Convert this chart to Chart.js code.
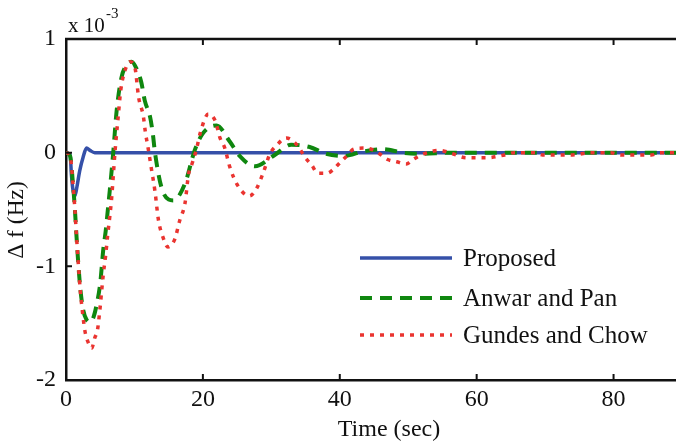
<!DOCTYPE html>
<html>
<head>
<meta charset="utf-8">
<script src="https://cdn.jsdelivr.net/npm/chart.js@4.4.0/dist/chart.umd.min.js"></script>
<style>
    html, body { margin: 0; padding: 0; background: #fff; overflow: hidden; }
    #wrap { width: 686px; height: 446px; }
</style>
</head>
<body>
<div id="wrap"><canvas id="chart" width="686" height="446"></canvas></div>
<script>
// values in units of 1e-3 Hz
const proposedTime = [0, 0.6, 0.8, 1.0, 1.3, 1.6, 2.0, 2.5, 3.0, 3.5, 4.2, 90];
const proposedVals = [0, -0.02, -0.2, -0.32, -0.38, -0.3, -0.16, -0.04, 0.04, 0.02, 0, 0];

const anwarTime = [0, 0.6, 1.0, 1.3, 1.55, 1.8, 2.1, 2.5, 3.0, 3.5, 4.0, 4.5, 5.0, 5.45, 5.8, 6.1, 6.4, 6.9,
    7.4, 8.1, 8.85, 9.6, 10.3, 11.0, 11.5, 12.3, 12.7, 13.0, 14.2, 15.7, 17.4, 18.8, 20.0, 22.0, 23.9, 25.4,
    27.6, 30.5, 32.9, 35.6, 38.0, 40.5, 43.4, 46.3, 49.2, 51.9, 56, 90];
const anwarVals = [0, -0.03, -0.26, -0.5, -0.75, -0.98, -1.2, -1.38, -1.47, -1.49, -1.45, -1.33, -1.15, -0.85, -0.69, -0.51, -0.33, 0,
    0.37, 0.66, 0.77, 0.80, 0.74, 0.62, 0.46, 0.31, 0.16, 0, -0.35, -0.42, -0.27, 0.02, 0.17, 0.24, 0.1, -0.03,
    -0.12, -0.02, 0.07, 0.05, -0.01, -0.03, 0.01, 0.03, 0, -0.01, 0, 0];

const gundesTime = [0, 0.6, 1.0, 1.3, 1.55, 1.8, 2.1, 2.5, 2.8, 3.25, 3.75, 4.2, 4.6, 4.9, 5.45, 5.8, 6.1, 6.4, 6.67, 6.9, 7.15,
    7.6, 8.0, 8.6, 9.35, 10.1, 10.6, 11.3, 11.6, 12.0, 12.5, 13.0, 13.5, 14.2, 14.9, 15.9, 16.6, 17.4, 17.9, 18.4, 19.1, 19.6,
    20.8, 21.8, 22.5, 23.2, 23.9, 25.1, 26.8, 27.8, 28.8, 29.8, 30.7, 32.2, 33.4, 34.2, 34.9, 35.9, 36.8, 38.2, 39.0,
    40.0, 41.0, 42.0, 43.4, 44.6, 45.8, 47.0, 48.3, 49.7, 50.7, 51.9, 53.4, 54.6, 56.5, 58.5, 61.4, 64.1, 65.5, 68.5,
    69.6, 74.0, 76.7, 79.6, 81.1, 85.5, 86.7, 90];
const gundesVals = [0, -0.03, -0.26, -0.5, -0.75, -0.98, -1.22, -1.45, -1.58, -1.67, -1.72, -1.63, -1.56, -1.41, -1.07, -0.9, -0.72, -0.56, -0.4, -0.21, 0.0,
    0.3, 0.55, 0.72, 0.80, 0.74, 0.49, 0.32, 0.18, 0.04, -0.15, -0.34, -0.59, -0.75, -0.83, -0.76, -0.6, -0.44, -0.19, -0.1, 0.04, 0.17,
    0.34, 0.28, 0.13, 0.04, -0.12, -0.29, -0.38, -0.32, -0.18, -0.01, 0.06, 0.13, 0.09, 0.03, -0.04, -0.11, -0.18, -0.18, -0.15,
    -0.09, -0.03, 0.03, 0.04, 0.03, -0.01, -0.06, -0.08, -0.1, -0.06, -0.02, 0.01, 0.02, -0.01, -0.045, -0.045, -0.02, 0, 0,
    -0.02, -0.02, 0, 0, -0.02, -0.02, 0, 0];

const xTicks = [0, 20, 40, 60, 80];
const yTicks = [-2, -1, 0, 1];

const FONT = '"Liberation Serif", "Times New Roman", serif';
const BLUE = '#3550a8';
const GREEN = '#0f870f';
const RED = '#ea3430';

function pts(t, v) {
    return t.map((x, i) => ({x: x, y: v[i]}));
}

const datasets = [
    {
        label: 'Proposed',
        data: pts(proposedTime, proposedVals),
        borderColor: BLUE,
        borderWidth: 3.5,
        order: 3
    },
    {
        label: 'Anwar and Pan',
        data: pts(anwarTime, anwarVals),
        borderColor: GREEN,
        borderWidth: 4,
        borderDash: [12, 8],
        order: 2
    },
    {
        label: 'Gundes and Chow',
        data: pts(gundesTime, gundesVals),
        borderColor: RED,
        borderWidth: 3.5,
        borderDash: [4, 6],
        order: 1
    }
];
datasets.forEach(d => {
    d.pointRadius = 0;
    d.fill = false;
    d.cubicInterpolationMode = 'monotone';
});

// frame top line, inward ticks, labels and legend
const decor = {
    id: 'decor',
    afterDraw(chart) {
        const ctx = chart.ctx;
        const a = chart.chartArea;
        const xs = chart.scales.x;
        const ys = chart.scales.y;
        ctx.save();
        ctx.strokeStyle = '#111';
        ctx.lineWidth = 2.5;
        ctx.beginPath();
        ctx.moveTo(a.left - 1, a.top);
        ctx.lineTo(a.right, a.top);
        ctx.stroke();

        ctx.lineWidth = 2;
        ctx.beginPath();
        xTicks.forEach(t => {
            const px = xs.getPixelForValue(t);
            ctx.moveTo(px, a.bottom);
            ctx.lineTo(px, a.bottom - 6);
            ctx.moveTo(px, a.top);
            ctx.lineTo(px, a.top + 6);
        });
        yTicks.forEach(t => {
            const py = ys.getPixelForValue(t);
            ctx.moveTo(a.left, py);
            ctx.lineTo(a.left + 6, py);
        });
        ctx.stroke();

        ctx.fillStyle = '#111';
        ctx.font = '21px ' + FONT;
        ctx.textBaseline = 'alphabetic';
        ctx.textAlign = 'left';
        ctx.fillText('x 10', 68, 32);
        ctx.font = '15px ' + FONT;
        ctx.fillText('-3', 106, 18);

        ctx.font = '24px ' + FONT;
        ctx.textAlign = 'center';
        ctx.fillText('Time (sec)', 389, 436);

        ctx.save();
        ctx.translate(17, 220);
        ctx.rotate(-Math.PI / 2);
        ctx.textBaseline = 'middle';
        ctx.font = '23.5px ' + FONT;
        ctx.fillText('\u0394 f (Hz)', 0, 0);
        ctx.restore();

        const rows = [258, 298, 335];
        chart.data.datasets.forEach((d, i) => {
            const y = rows[i];
            ctx.strokeStyle = d.borderColor;
            ctx.lineWidth = d.borderWidth;
            ctx.setLineDash(d.borderDash || []);
            ctx.beginPath();
            ctx.moveTo(360, y);
            ctx.lineTo(452, y);
            ctx.stroke();
            ctx.setLineDash([]);
            ctx.fillStyle = '#111';
            ctx.font = '25px ' + FONT;
            ctx.textAlign = 'left';
            ctx.fillText(d.label, 463, y + 8);
        });
        ctx.restore();
    }
};

new Chart(document.getElementById('chart'), {
    type: 'line',
    data: {datasets: datasets},
    options: {
        responsive: false,
        animation: false,
        devicePixelRatio: 1,
        layout: {padding: {left: 0, top: 39, right: 4, bottom: 0}},
        plugins: {legend: {display: false}, tooltip: {enabled: false}},
        scales: {
            x: {
                type: 'linear',
                min: 0,
                max: 90,
                grid: {display: false, tickLength: 0},
                border: {display: true, color: '#111', width: 2.5},
                ticks: {
                    color: '#111',
                    padding: 5,
                    maxRotation: 0,
                    font: {family: FONT, size: 24}
                },
                afterBuildTicks: scale => { scale.ticks = xTicks.map(v => ({value: v})); },
                afterFit: scale => { scale.height = 66; }
            },
            y: {
                min: -2,
                max: 1,
                grid: {display: false, tickLength: 0},
                border: {display: true, color: '#111', width: 2.5},
                ticks: {
                    color: '#111',
                    padding: 10,
                    font: {family: FONT, size: 24}
                },
                afterBuildTicks: scale => { scale.ticks = yTicks.map(v => ({value: v})); },
                afterFit: scale => { scale.width = 66; }
            }
        }
    },
    plugins: [decor]
});
</script>
</body>
</html>
